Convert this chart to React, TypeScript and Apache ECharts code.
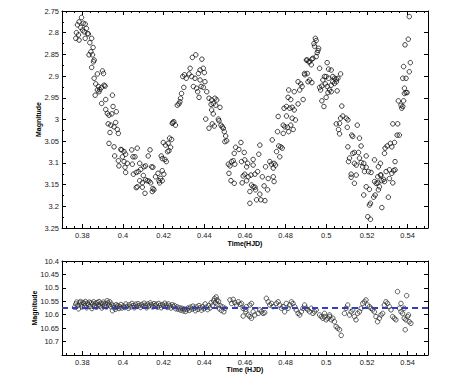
import React, { useEffect, useRef } from "react";
import * as echarts from "echarts";

// ---------- Top panel: variable star light curve ----------
const varTime: number[] = [
  0.3796, 0.3784, 0.3776, 0.3804, 0.3814, 0.3792, 0.3801, 0.3820, 0.3809, 0.3825,
  0.3771, 0.3781, 0.3768, 0.3784, 0.3814, 0.3830, 0.3846, 0.3837, 0.3853, 0.3833,
  0.3850, 0.3842, 0.3858, 0.3855, 0.3846, 0.3899, 0.3904, 0.3874, 0.3858, 0.3866,
  0.3879, 0.3886, 0.3895, 0.3907, 0.3912, 0.3874, 0.3863, 0.3882, 0.3915, 0.3895,
  0.3948, 0.3915, 0.3951, 0.3923, 0.3931, 0.3945, 0.3967, 0.3927, 0.3940, 0.3956,
  0.3964, 0.3972, 0.3977, 0.3936, 0.3931, 0.3956, 0.3989, 0.3994, 0.4005, 0.4013,
  0.3959, 0.4043, 0.4049, 0.4059, 0.4070, 0.3997, 0.3977, 0.4005, 0.4021, 0.3980,
  0.4010, 0.4046, 0.4082, 0.4133, 0.4124, 0.4013, 0.4051, 0.4065, 0.4103, 0.4111,
  0.4075, 0.4087, 0.4100, 0.4082, 0.4095, 0.4111, 0.4119, 0.4128, 0.4136, 0.4141,
  0.4147, 0.4160, 0.4172, 0.4177, 0.4185, 0.4193, 0.4201, 0.4180, 0.4193, 0.4065,
  0.4070, 0.4095, 0.4108, 0.4147, 0.4152, 0.4144, 0.4188, 0.4193, 0.4206, 0.4213,
  0.4198, 0.4209, 0.4222, 0.4229, 0.4239, 0.4234, 0.4226, 0.4219, 0.4242, 0.4250,
  0.4258, 0.4245, 0.4267, 0.4275, 0.4280, 0.4283, 0.4288, 0.4299, 0.4294, 0.4302,
  0.4311,
  0.4341, 0.4358, 0.4388, 0.4379, 0.4395, 0.4400, 0.4371, 0.4330, 0.4325, 0.4338,
  0.4354, 0.4379, 0.4403, 0.4346, 0.4362, 0.4384, 0.4395, 0.4367, 0.4374, 0.4412,
  0.4423, 0.4436, 0.4452, 0.4461, 0.4444, 0.4433, 0.4456, 0.4477, 0.4436, 0.4444,
  0.4407, 0.4423, 0.4439, 0.4449, 0.4469, 0.4472, 0.4482, 0.4488, 0.4493, 0.4498,
  0.4505, 0.4510, 0.4501, 0.4580, 0.4554, 0.4570, 0.4596, 0.4547, 0.4542, 0.4518,
  0.4526, 0.4534, 0.4550, 0.4583, 0.4599, 0.4613, 0.4608, 0.4640, 0.4668, 0.4673,
  0.4640, 0.4662, 0.4649, 0.4629, 0.4599, 0.4591, 0.4608, 0.4586, 0.4616, 0.4531,
  0.4547, 0.4521, 0.4632, 0.4640, 0.4649, 0.4624, 0.4652, 0.4673, 0.4685, 0.4701,
  0.4714, 0.4694, 0.4711, 0.4722, 0.4730, 0.4743, 0.4750, 0.4739, 0.4739, 0.4743,
  0.4734, 0.4755, 0.4766, 0.4771, 0.4776, 0.4783, 0.4760, 0.4788, 0.4796, 0.4809,
  0.4815, 0.4837, 0.4763, 0.4788, 0.4825, 0.4832, 0.4848, 0.4792, 0.4804, 0.4820,
  0.4832, 0.4842, 0.4804, 0.4861, 0.4812, 0.4825, 0.4886, 0.4815, 0.4842, 0.4869,
  0.4881, 0.4874, 0.4861, 0.4894, 0.4910, 0.4902, 0.4913, 0.4657, 0.4678, 0.4698,
  0.4624,
  0.4946, 0.4950, 0.4939, 0.4942, 0.4962, 0.4959, 0.4955, 0.4950, 0.4934, 0.4906,
  0.4918, 0.4926, 0.4929, 0.4893, 0.4906, 0.4967, 0.5004, 0.5011, 0.5024, 0.4991,
  0.4983, 0.4999, 0.5011, 0.5032, 0.5040, 0.5049, 0.5057, 0.5070, 0.4918, 0.4929,
  0.4967, 0.4972, 0.4978, 0.4995, 0.5004, 0.5016, 0.5008, 0.4999, 0.4978, 0.4988,
  0.5024, 0.5032, 0.5049, 0.5040, 0.5024, 0.5053, 0.5076, 0.5081, 0.5098, 0.5106,
  0.5070, 0.5065, 0.5049, 0.5060, 0.5065, 0.5103, 0.5152, 0.5125, 0.5130, 0.5163,
  0.5106, 0.5171, 0.5114, 0.5130, 0.5138, 0.5158, 0.5163, 0.5196, 0.5109, 0.5138,
  0.5147, 0.5171, 0.5184, 0.5179, 0.5196, 0.5188, 0.5207, 0.5220, 0.5122, 0.5122,
  0.5147, 0.5138, 0.5196, 0.5212, 0.5237, 0.5266, 0.5256, 0.5286, 0.5289, 0.5299,
  0.5315, 0.5322, 0.5335, 0.5348, 0.5327, 0.5351, 0.5359, 0.5338, 0.5331, 0.5338,
  0.5322, 0.5310, 0.5294, 0.5266, 0.5253, 0.5237, 0.5245, 0.5253, 0.5273, 0.5282,
  0.5286, 0.5261, 0.5256, 0.5269, 0.5240, 0.5233, 0.5212, 0.5217, 0.5184, 0.5204,
  0.5217, 0.5273, 0.5305, 0.5310, 0.5327, 0.5354, 0.5367, 0.5371, 0.5376, 0.5380,
  0.5384, 0.5376, 0.5392, 0.5384, 0.5392, 0.5397, 0.5408, 0.5413, 0.5403, 0.5387,
  0.5408, 0.5380,
];
const varMag: number[] = [
  2.765, 2.775, 2.782, 2.778, 2.780, 2.788, 2.794, 2.790, 2.798, 2.802,
  2.800, 2.805, 2.813, 2.817, 2.813, 2.803, 2.813, 2.823, 2.834, 2.851,
  2.851, 2.844, 2.863, 2.867, 2.880, 2.888, 2.894, 2.895, 2.905, 2.918,
  2.924, 2.931, 2.926, 2.921, 2.923, 2.932, 2.944, 2.936, 2.954, 2.963,
  2.944, 2.977, 2.970, 2.986, 2.990, 2.987, 2.982, 3.010, 3.013, 3.017,
  3.007, 3.023, 3.032, 3.030, 3.055, 3.063, 3.069, 3.070, 3.074, 3.080,
  3.084, 3.070, 3.086, 3.086, 3.066, 3.086, 3.095, 3.097, 3.101, 3.107,
  3.110, 3.103, 3.101, 3.070, 3.084, 3.122, 3.126, 3.122, 3.109, 3.107,
  3.120, 3.115, 3.129, 3.141, 3.146, 3.139, 3.141, 3.142, 3.146, 3.109,
  3.110, 3.132, 3.124, 3.141, 3.136, 3.118, 3.126, 3.146, 3.141, 3.157,
  3.155, 3.156, 3.170, 3.159, 3.162, 3.166, 3.084, 3.090, 3.092, 3.097,
  3.053, 3.059, 3.055, 3.043, 3.046, 3.064, 3.072, 3.074, 3.009, 3.005,
  3.013, 3.007, 2.967, 2.964, 2.959, 2.951, 2.940, 2.926, 2.901, 2.897,
  2.905,
  2.857, 2.851, 2.861, 2.886, 2.882, 2.892, 2.894, 2.882, 2.895, 2.901,
  2.905, 2.909, 2.913, 2.924, 2.928, 2.924, 2.926, 2.936, 2.949, 2.936,
  2.951, 2.955, 2.951, 2.955, 2.963, 2.965, 2.967, 2.972, 2.978, 2.987,
  2.999, 3.020, 3.010, 3.015, 2.999, 3.003, 3.013, 3.017, 3.020, 3.028,
  3.038, 3.049, 3.051, 3.053, 3.064, 3.069, 3.076, 3.078, 3.095, 3.103,
  3.107, 3.097, 3.103, 3.097, 3.093, 3.101, 3.109, 3.092, 3.080, 3.059,
  3.105, 3.120, 3.126, 3.128, 3.126, 3.130, 3.141, 3.146, 3.132, 3.141,
  3.147, 3.124, 3.151, 3.155, 3.156, 3.166, 3.162, 3.172, 3.132, 3.109,
  3.136, 3.153, 3.162, 3.097, 3.103, 3.101, 3.105, 3.112, 3.132, 3.143,
  3.047, 3.074, 3.061, 3.086, 3.063, 3.066, 3.028, 3.032, 3.017, 3.018,
  3.028, 3.023, 2.993, 3.013, 3.013, 2.997, 3.001, 2.974, 2.970, 2.974,
  2.972, 2.978, 2.992, 2.964, 2.949, 2.954, 2.954, 2.932, 2.936, 2.932,
  2.924, 2.918, 2.913, 2.897, 2.913, 2.863, 2.867, 3.185, 3.185, 3.187,
  3.193,
  2.813, 2.818, 2.825, 2.831, 2.836, 2.841, 2.846, 2.855, 2.859, 2.863,
  2.867, 2.874, 2.861, 2.894, 2.894, 2.882, 2.869, 2.884, 2.886, 2.901,
  2.909, 2.901, 2.905, 2.901, 2.905, 2.907, 2.905, 2.895, 2.909, 2.915,
  2.926, 2.932, 2.923, 2.918, 2.924, 2.932, 2.938, 2.949, 2.957, 2.970,
  2.936, 2.913, 2.913, 2.917, 2.921, 2.934, 2.969, 2.992, 2.997, 3.001,
  2.997, 3.009, 3.010, 3.023, 3.033, 3.018, 3.013, 3.036, 3.039, 3.043,
  3.063, 3.061, 3.089, 3.078, 3.076, 3.076, 3.089, 3.084, 3.097, 3.101,
  3.105, 3.099, 3.101, 3.109, 3.110, 3.120, 3.120, 3.122, 3.126, 3.133,
  3.128, 3.147, 3.155, 3.161, 3.093, 3.101, 3.109, 3.078, 3.066, 3.061,
  3.055, 3.063, 3.053, 3.036, 3.010, 3.010, 3.036, 3.097, 3.118, 3.116,
  3.124, 3.116, 3.120, 3.128, 3.132, 3.143, 3.147, 3.146, 3.141, 3.138,
  3.143, 3.155, 3.162, 3.128, 3.174, 3.179, 3.197, 3.193, 3.174, 3.224,
  3.230, 3.203, 3.179, 3.136, 3.146, 2.957, 2.967, 2.974, 2.970, 2.957,
  2.928, 2.905, 2.905, 2.940, 2.938, 2.938, 2.890, 2.869, 2.815, 2.828,
  2.763, 2.878,
];

// ---------- Bottom panel: comparison star ----------
const compTime: number[] = [
  0.3762, 0.3768, 0.3772, 0.3778, 0.3781, 0.3786, 0.3790, 0.3795, 0.3799, 0.3803,
  0.3808, 0.3812, 0.3816, 0.3821, 0.3825, 0.3829, 0.3834, 0.3838, 0.3843, 0.3847,
  0.3851, 0.3856, 0.3860, 0.3865, 0.3869, 0.3873, 0.3878, 0.3882, 0.3887, 0.3891,
  0.3896, 0.3900, 0.3904, 0.3909, 0.3913, 0.3918, 0.3922, 0.3926, 0.3931, 0.3935,
  0.3940, 0.3944, 0.3948, 0.3953, 0.3957, 0.3962, 0.3966, 0.3970, 0.3975, 0.3980,
  0.3984, 0.3990, 0.3995, 0.4002, 0.4008, 0.4014, 0.4020, 0.4026, 0.4032, 0.4038,
  0.4044, 0.4050, 0.4056, 0.4062, 0.4068, 0.4074, 0.4080, 0.4086, 0.4092, 0.4098,
  0.4104, 0.4110, 0.4116, 0.4122, 0.4128, 0.4134, 0.4140, 0.4146, 0.4152, 0.4158,
  0.4164, 0.4170, 0.4176, 0.4182, 0.4188, 0.4194, 0.4200, 0.4206, 0.4212, 0.4218,
  0.4224, 0.4230, 0.4236, 0.4242, 0.4248, 0.4254, 0.4260, 0.4266, 0.4272, 0.4278,
  0.4284, 0.4290, 0.4296, 0.4302, 0.4308, 0.4314, 0.4320, 0.4326, 0.4332, 0.4338,
  0.4344, 0.4350, 0.4356, 0.4362, 0.4368, 0.4374, 0.4380, 0.4386, 0.4392, 0.4398,
  0.4404, 0.4410, 0.4416, 0.4422, 0.4428, 0.4434, 0.4440, 0.4446, 0.4450, 0.4454,
  0.4458, 0.4462, 0.4466, 0.4470, 0.4474, 0.4478, 0.4484, 0.4490, 0.4496, 0.4502,
  0.4526, 0.4534, 0.4542, 0.4550, 0.4558, 0.4567, 0.4575,
  0.4583, 0.4591, 0.4604, 0.4616, 0.4624, 0.4632, 0.4640, 0.4648, 0.4665, 0.4673,
  0.4681, 0.4689, 0.4697, 0.4591, 0.4604, 0.4624, 0.4632, 0.4607,
  0.4705, 0.4714, 0.4722, 0.4730, 0.4738, 0.4754, 0.4763, 0.4771, 0.4779, 0.4787,
  0.4795, 0.4803, 0.4812, 0.4820, 0.4828, 0.4836, 0.4844, 0.4852, 0.4861, 0.4869,
  0.4877, 0.4885, 0.4893, 0.4901, 0.4909,
  0.4918, 0.4926, 0.4934, 0.4942, 0.4950, 0.4967, 0.4975, 0.4983, 0.4991, 0.4999,
  0.5007, 0.5016, 0.5024, 0.5032, 0.5040, 0.5048, 0.5056, 0.5065, 0.5073, 0.5016,
  0.4991,
  0.5089, 0.5097, 0.5105, 0.5114, 0.5122, 0.5130, 0.5138, 0.5146, 0.5154, 0.5163,
  0.5171, 0.5179,
  0.5187, 0.5195, 0.5203, 0.5212, 0.5220, 0.5228, 0.5236, 0.5244, 0.5252, 0.5261,
  0.5269, 0.5277,
  0.5285, 0.5293, 0.5301, 0.5310, 0.5318, 0.5326, 0.5334, 0.5342, 0.5350, 0.5359,
  0.5367, 0.5375, 0.5383, 0.5391, 0.5399, 0.5388, 0.5407, 0.5416, 0.5395, 0.5404,
  0.5367, 0.5383,
];
const compMag: number[] = [
  10.572, 10.560, 10.553, 10.566, 10.578, 10.556, 10.551, 10.563, 10.571, 10.554,
  10.558, 10.566, 10.551, 10.574, 10.557, 10.562, 10.553, 10.569, 10.556, 10.577,
  10.560, 10.552, 10.566, 10.558, 10.572, 10.555, 10.563, 10.551, 10.568, 10.557,
  10.575, 10.560, 10.553, 10.566, 10.559, 10.571, 10.548, 10.556, 10.564, 10.552,
  10.570, 10.561, 10.585, 10.567, 10.574, 10.580, 10.563, 10.572, 10.566, 10.577,
  10.570, 10.562, 10.575, 10.568, 10.573, 10.560, 10.569, 10.576, 10.563, 10.571,
  10.558, 10.566, 10.574, 10.561, 10.569, 10.559, 10.566, 10.573, 10.562, 10.568,
  10.557, 10.565, 10.574, 10.560, 10.567, 10.556, 10.563, 10.571, 10.559, 10.566,
  10.561, 10.572, 10.558, 10.565, 10.574, 10.562, 10.568, 10.557, 10.564, 10.573,
  10.560, 10.567, 10.575, 10.563, 10.570, 10.566, 10.578, 10.571, 10.580, 10.574,
  10.583, 10.576, 10.586, 10.579, 10.588, 10.581, 10.575, 10.584, 10.572, 10.579,
  10.568, 10.576, 10.585, 10.571, 10.580, 10.566, 10.574, 10.583, 10.570, 10.578,
  10.560, 10.572, 10.581, 10.566, 10.575, 10.555, 10.565, 10.548, 10.540, 10.556,
  10.534, 10.545, 10.562, 10.550, 10.578, 10.566, 10.584, 10.571, 10.589, 10.576,
  10.545, 10.558, 10.543, 10.555, 10.564, 10.552, 10.561,
  10.558, 10.576, 10.589, 10.601, 10.607, 10.613, 10.589, 10.601, 10.595, 10.582,
  10.589, 10.595, 10.592, 10.605, 10.580, 10.564, 10.558, 10.570,
  10.539, 10.552, 10.564, 10.558, 10.570, 10.558, 10.552, 10.564, 10.576, 10.570,
  10.589, 10.558, 10.576, 10.564, 10.552, 10.558, 10.570, 10.582, 10.595, 10.601,
  10.589, 10.576, 10.564, 10.576, 10.582,
  10.589, 10.576, 10.595, 10.589, 10.582, 10.601, 10.607, 10.613, 10.607, 10.619,
  10.613, 10.607, 10.619, 10.613, 10.626, 10.644, 10.650, 10.656, 10.677, 10.601,
  10.595,
  10.595, 10.576, 10.564, 10.601, 10.589, 10.582, 10.607, 10.619, 10.595, 10.589,
  10.576, 10.558,
  10.552, 10.545, 10.564, 10.570, 10.576, 10.582, 10.589, 10.607, 10.626, 10.613,
  10.601, 10.595,
  10.564, 10.552, 10.558, 10.570, 10.582, 10.607, 10.613, 10.619, 10.514, 10.576,
  10.589, 10.595, 10.613, 10.619, 10.607, 10.656, 10.626, 10.632, 10.529, 10.601,
  10.558, 10.576,
];
const compMean = 10.575;

// ---------- Axis settings ----------
const timeMin = 0.37;
const timeMax = 0.55;
const varMagMin = 2.75;
const varMagMax = 3.25;
const compMagMin = 10.4;
const compMagMax = 10.75;
const magStep = 0.05;

const FONT = "Liberation Sans, Arial, Helvetica, sans-serif";

function xAx(grid: number, pos: "bottom" | "top", labels: boolean) {
  return {
    type: "value",
    gridIndex: grid,
    position: pos,
    min: timeMin,
    max: timeMax,
    splitNumber: 9,
    axisLine: { show: true, onZero: false, lineStyle: { color: "#000", width: 1 } },
    axisTick: { show: true, inside: true, length: 4, lineStyle: { color: "#000", width: 1 } },
    minorTick: { show: true, splitNumber: 5, length: 2, lineStyle: { color: "#000", width: 1 } },
    axisLabel: {
      show: labels,
      showMinLabel: false,
      showMaxLabel: false,
      fontSize: 7.5,
      fontFamily: FONT,
      color: "#222",
      margin: 3,
    },
    splitLine: { show: false },
  };
}

function yAx(
  grid: number,
  pos: "left" | "right",
  labels: boolean,
  min: number,
  max: number,
  hideMax: boolean
) {
  return {
    type: "value",
    gridIndex: grid,
    position: pos,
    inverse: true,
    min,
    max,
    interval: magStep,
    axisLine: { show: true, onZero: false, lineStyle: { color: "#000", width: 1 } },
    axisTick: { show: true, inside: true, length: 4, lineStyle: { color: "#000", width: 1 } },
    minorTick: {
      show: pos === "left" && grid === 0,
      splitNumber: 2,
      length: 2,
      lineStyle: { color: "#000", width: 1 },
    },
    axisLabel: {
      show: labels,
      fontSize: 7.5,
      fontFamily: FONT,
      color: "#222",
      margin: 3,
      formatter: (v: number) => {
        const r = Math.round(v * 100) / 100;
        if (hideMax && r >= max - 1e-6) return "";
        return String(r);
      },
    },
    splitLine: { show: false },
  };
}

export default function App() {
  const ref = useRef<HTMLDivElement>(null);

  useEffect(() => {
    if (!ref.current) return;
    const chart = echarts.init(ref.current, undefined, { renderer: "svg" });

    const varData = varTime.map((t, i) => [t, varMag[i]]);
    const compData = compTime.map((t, i) => [t, compMag[i]]);

    const titleStyle = {
      font: `bold 7px ${FONT}`,
      fill: "#000",
      textAlign: "center",
      textVerticalAlign: "middle",
    };

    chart.setOption({
      animation: false,
      backgroundColor: "#fff",
      grid: [
        { left: 62, top: 11, width: 366, height: 217, containLabel: false },
        { left: 62, top: 261, width: 366, height: 94, containLabel: false },
      ],
      xAxis: [
        xAx(0, "bottom", true),
        xAx(0, "top", false),
        xAx(1, "bottom", true),
        xAx(1, "top", false),
      ],
      yAxis: [
        yAx(0, "left", true, varMagMin, varMagMax, false),
        yAx(0, "right", false, varMagMin, varMagMax, false),
        yAx(1, "left", true, compMagMin, compMagMax, true),
        yAx(1, "right", false, compMagMin, compMagMax, true),
      ],
      series: [
        {
          type: "scatter",
          xAxisIndex: 0,
          yAxisIndex: 0,
          data: varData,
          symbol: "circle",
          symbolSize: 4.5,
          itemStyle: { color: "rgba(0,0,0,0)", borderColor: "#111", borderWidth: 1 },
        },
        {
          type: "scatter",
          xAxisIndex: 2,
          yAxisIndex: 2,
          data: compData,
          symbol: "circle",
          symbolSize: 4.5,
          itemStyle: { color: "rgba(0,0,0,0)", borderColor: "#333", borderWidth: 1 },
        },
        {
          type: "line",
          xAxisIndex: 2,
          yAxisIndex: 2,
          data: [
            [timeMin, compMean],
            [timeMax, compMean],
          ],
          symbol: "none",
          lineStyle: { color: "#2f3fbf", width: 2, type: [6, 4] },
          z: 5,
        },
      ],
      graphic: [
        {
          type: "text",
          x: 38,
          y: 119.5,
          rotation: Math.PI / 2,
          style: { ...titleStyle, text: "Magnitude" },
        },
        {
          type: "text",
          x: 245,
          y: 243,
          style: { ...titleStyle, text: "Time(HJD)" },
        },
        {
          type: "text",
          x: 34,
          y: 308,
          rotation: Math.PI / 2,
          style: { ...titleStyle, text: "Magnitude" },
        },
        {
          type: "text",
          x: 245,
          y: 369,
          style: { ...titleStyle, text: "Time (HJD)" },
        },
      ],
    });

    return () => chart.dispose();
  }, []);

  return (
    <div
      ref={ref}
      style={{ position: "fixed", left: 0, top: 0, width: 474, height: 382 }}
    />
  );
}
